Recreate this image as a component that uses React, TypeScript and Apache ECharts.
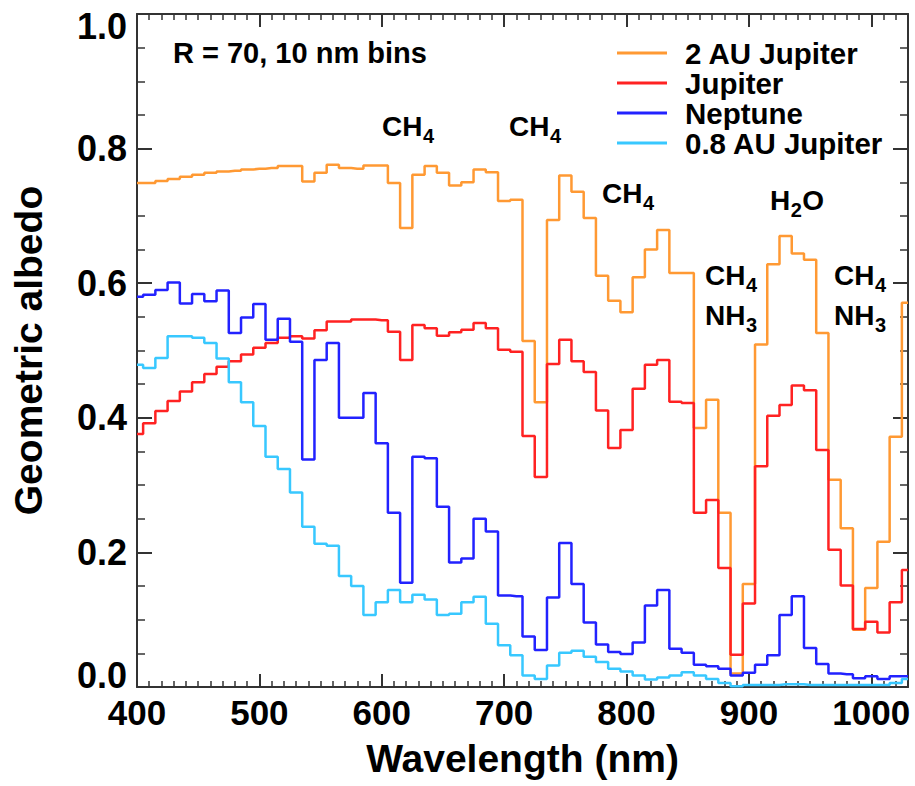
import React, { useEffect, useRef } from 'react';
import * as echarts from 'echarts';

const FONT = '"Liberation Sans", Arial, Helvetica, sans-serif';

// 10 nm bin centres (nm)
const wavelength = [
  400, 410, 420, 430, 440, 450, 460, 470, 480, 490,
  500, 510, 520, 530, 540, 550, 560, 570, 580, 590,
  600, 610, 620, 630, 640, 650, 660, 670, 680, 690,
  700, 710, 720, 730, 740, 750, 760, 770, 780, 790,
  800, 810, 820, 830, 840, 850, 860, 870, 880, 890,
  900, 910, 920, 930, 940, 950, 960, 970, 980, 990,
  1000, 1010, 1020, 1030,
];

const albedo2AUJupiter = [
  0.749, 0.749, 0.752, 0.755, 0.758, 0.761, 0.764, 0.766, 0.767, 0.769,
  0.770, 0.771, 0.774, 0.774, 0.751, 0.764, 0.776, 0.771, 0.770, 0.775,
  0.775, 0.749, 0.682, 0.761, 0.774, 0.764, 0.745, 0.750, 0.769, 0.765,
  0.722, 0.724, 0.514, 0.423, 0.694, 0.760, 0.736, 0.697, 0.611, 0.574,
  0.557, 0.609, 0.650, 0.679, 0.615, 0.615, 0.385, 0.427, 0.259, 0.020,
  0.153, 0.509, 0.628, 0.670, 0.644, 0.635, 0.526, 0.308, 0.236, 0.085,
  0.147, 0.216, 0.372, 0.571,
];

const albedoJupiter = [
  0.376, 0.392, 0.410, 0.425, 0.439, 0.453, 0.465, 0.476, 0.484, 0.494,
  0.504, 0.511, 0.519, 0.521, 0.518, 0.530, 0.543, 0.543, 0.546, 0.546,
  0.545, 0.528, 0.486, 0.538, 0.533, 0.522, 0.527, 0.531, 0.541, 0.533,
  0.501, 0.498, 0.373, 0.312, 0.480, 0.516, 0.484, 0.468, 0.411, 0.355,
  0.382, 0.443, 0.479, 0.486, 0.424, 0.422, 0.259, 0.278, 0.177, 0.048,
  0.124, 0.328, 0.403, 0.419, 0.448, 0.441, 0.352, 0.204, 0.151, 0.086,
  0.097, 0.081, 0.126, 0.174,
];

const albedoNeptune = [
  0.580, 0.583, 0.590, 0.601, 0.570, 0.584, 0.573, 0.589, 0.526, 0.549,
  0.569, 0.516, 0.547, 0.513, 0.338, 0.486, 0.511, 0.400, 0.400, 0.437,
  0.362, 0.259, 0.155, 0.342, 0.340, 0.268, 0.185, 0.191, 0.250, 0.231,
  0.136, 0.135, 0.075, 0.055, 0.133, 0.214, 0.153, 0.096, 0.063, 0.052,
  0.049, 0.066, 0.121, 0.144, 0.057, 0.051, 0.033, 0.031, 0.027, 0.017,
  0.021, 0.033, 0.047, 0.107, 0.135, 0.058, 0.034, 0.020, 0.019, 0.013,
  0.016, 0.012, 0.016, 0.016,
];

const albedo08AUJupiter = [
  0.479, 0.474, 0.489, 0.521, 0.521, 0.519, 0.511, 0.488, 0.453, 0.423,
  0.388, 0.342, 0.324, 0.289, 0.238, 0.213, 0.210, 0.165, 0.150, 0.107,
  0.126, 0.144, 0.126, 0.137, 0.130, 0.107, 0.109, 0.126, 0.134, 0.094,
  0.062, 0.047, 0.017, 0.012, 0.032, 0.051, 0.054, 0.045, 0.037, 0.027,
  0.023, 0.017, 0.011, 0.014, 0.017, 0.022, 0.017, 0.012, 0.006, 0.001,
  0.003, 0.003, 0.003, 0.004, 0.004, 0.003, 0.003, 0.003, 0.003, 0.003,
  0.003, 0.003, 0.006, 0.012,
];

const seriesNames = ['2 AU Jupiter', 'Jupiter', 'Neptune', '0.8 AU Jupiter'];
const seriesValues = [albedo2AUJupiter, albedoJupiter, albedoNeptune, albedo08AUJupiter];
const seriesColors = ['#ff9933', '#ff2222', '#2222ff', '#38c8ff'];

const xTickLabels = [400, 500, 600, 700, 800, 900, 1000];

const MAIN_SIZE = 28;
const SUB_SIZE = 20;

function textEl(text: string, x: number, baseline: number, size: number) {
  return {
    type: 'text',
    x,
    y: baseline - 0.8465 * size,
    z: 100,
    silent: true,
    style: {
      text,
      fontSize: size,
      fontWeight: 'bold',
      fontFamily: FONT,
      fill: '#000',
      align: 'left',
      verticalAlign: 'top',
    },
  };
}

// molecule label: main letters, subscript digit, optional trailing letters
function chem(main: string, sub: string, x: number, baseline: number, tail = '') {
  const els: any[] = [];
  els.push(textEl(main, x, baseline, MAIN_SIZE));
  const w = main.length * 0.722 * MAIN_SIZE;
  const subX = x + w + 0.5;
  els.push(textEl(sub, subX, baseline + 6.5, SUB_SIZE));
  if (tail) {
    els.push(textEl(tail, subX + 0.556 * SUB_SIZE + 0.5, baseline, MAIN_SIZE));
  }
  return els;
}

export default function App() {
  const ref = useRef<HTMLDivElement>(null);

  useEffect(() => {
    if (!ref.current) return;
    const chart = echarts.init(ref.current, undefined, { renderer: 'svg' });

    const axisLine = { show: true, onZero: false, lineStyle: { color: '#333', width: 2 } };
    const xTick = { show: true, inside: true, length: 13, lineStyle: { color: '#333', width: 2 } };
    const xMinor = { show: true, splitNumber: 10, length: 6, lineStyle: { color: '#333', width: 1.5 } };
    const yTick = { show: true, inside: true, length: 15, lineStyle: { color: '#333', width: 2 } };
    const yMinor = { show: true, splitNumber: 4, length: 8, lineStyle: { color: '#333', width: 1.5 } };
    const labelFont = { fontSize: 36, fontWeight: 'bold', fontFamily: FONT, color: '#000' };
    const nameFont = { fontSize: 39, fontWeight: 'bold', fontFamily: FONT, color: '#000' };

    const graphics: any[] = [
      textEl('R = 70, 10 nm bins', 173, 63, 29),
      ...chem('CH', '4', 382, 136.7),
      ...chem('CH', '4', 509, 136.7),
      ...chem('CH', '4', 602, 203.3),
      ...chem('H', '2', 770, 210, 'O'),
      ...chem('CH', '4', 705, 285),
      ...chem('NH', '3', 705, 325),
      ...chem('CH', '4', 834, 285),
      ...chem('NH', '3', 834, 325),
    ];

    chart.setOption({
      animation: false,
      backgroundColor: '#fff',
      grid: { left: 137, right: 7, top: 14, bottom: 99, containLabel: false, outerBoundsMode: 'none' },
      legend: {
        data: seriesNames.map((n) => ({ name: n, icon: 'rect' })),
        orient: 'vertical',
        left: 612,
        top: 33,
        itemWidth: 50,
        itemHeight: 3,
        itemGap: 0,
        selectedMode: false,
        textStyle: {
          fontSize: 29.5,
          fontWeight: 'bold',
          fontFamily: FONT,
          color: '#000',
          lineHeight: 28.5,
          padding: [0, 0, 0, 13],
        },
      },
      xAxis: [
        {
          type: 'value',
          position: 'bottom',
          min: 400,
          max: 1030,
          interval: 100,
          axisLine,
          axisTick: xTick,
          minorTick: xMinor,
          splitLine: { show: false },
          minorSplitLine: { show: false },
          axisLabel: {
            ...labelFont,
            fontSize: 35,
            margin: 8,
            formatter: (v: number) => (xTickLabels.includes(v) ? String(v) : ''),
          },
          name: 'Wavelength (nm)',
          nameLocation: 'middle',
          nameGap: 52,
          nameMoveOverlap: false,
          nameTextStyle: nameFont,
        },
        {
          type: 'value',
          position: 'top',
          min: 400,
          max: 1030,
          interval: 100,
          axisLine,
          axisTick: xTick,
          minorTick: xMinor,
          splitLine: { show: false },
          axisLabel: { show: false },
        },
      ],
      yAxis: [
        {
          type: 'value',
          position: 'left',
          min: 0,
          max: 1,
          interval: 0.2,
          axisLine,
          axisTick: yTick,
          minorTick: yMinor,
          splitLine: { show: false },
          minorSplitLine: { show: false },
          axisLabel: {
            ...labelFont,
            lineHeight: 28,
            margin: 10,
            formatter: (v: number) => {
              if (Math.abs(v) < 1e-9) return '{lo|0.0}';
              if (Math.abs(v - 1) < 1e-9) return '{hi|1.0}';
              return v.toFixed(1);
            },
            rich: {
              lo: { ...labelFont, lineHeight: 28, padding: [0, 0, 24, 0] },
              hi: { ...labelFont, lineHeight: 28, padding: [24, 0, 0, 0] },
            },
          },
          name: 'Geometric albedo',
          nameLocation: 'middle',
          nameGap: 89,
          nameMoveOverlap: false,
          nameTextStyle: nameFont,
        },
        {
          type: 'value',
          position: 'right',
          min: 0,
          max: 1,
          interval: 0.2,
          axisLine,
          axisTick: yTick,
          minorTick: yMinor,
          splitLine: { show: false },
          axisLabel: { show: false },
        },
      ],
      series: seriesValues.map((vals, i) => ({
        name: seriesNames[i],
        type: 'line',
        step: 'middle',
        symbol: 'none',
        xAxisIndex: 0,
        yAxisIndex: 0,
        data: wavelength.map((w, j) => [w, vals[j]]),
        lineStyle: { width: 2.5, color: seriesColors[i] },
        itemStyle: { color: seriesColors[i] },
      })),
      graphic: graphics,
    });

    return () => chart.dispose();
  }, []);

  return (
    <div
      ref={ref}
      style={{ position: 'absolute', left: 0, top: 0, width: 915, height: 786 }}
    />
  );
}
